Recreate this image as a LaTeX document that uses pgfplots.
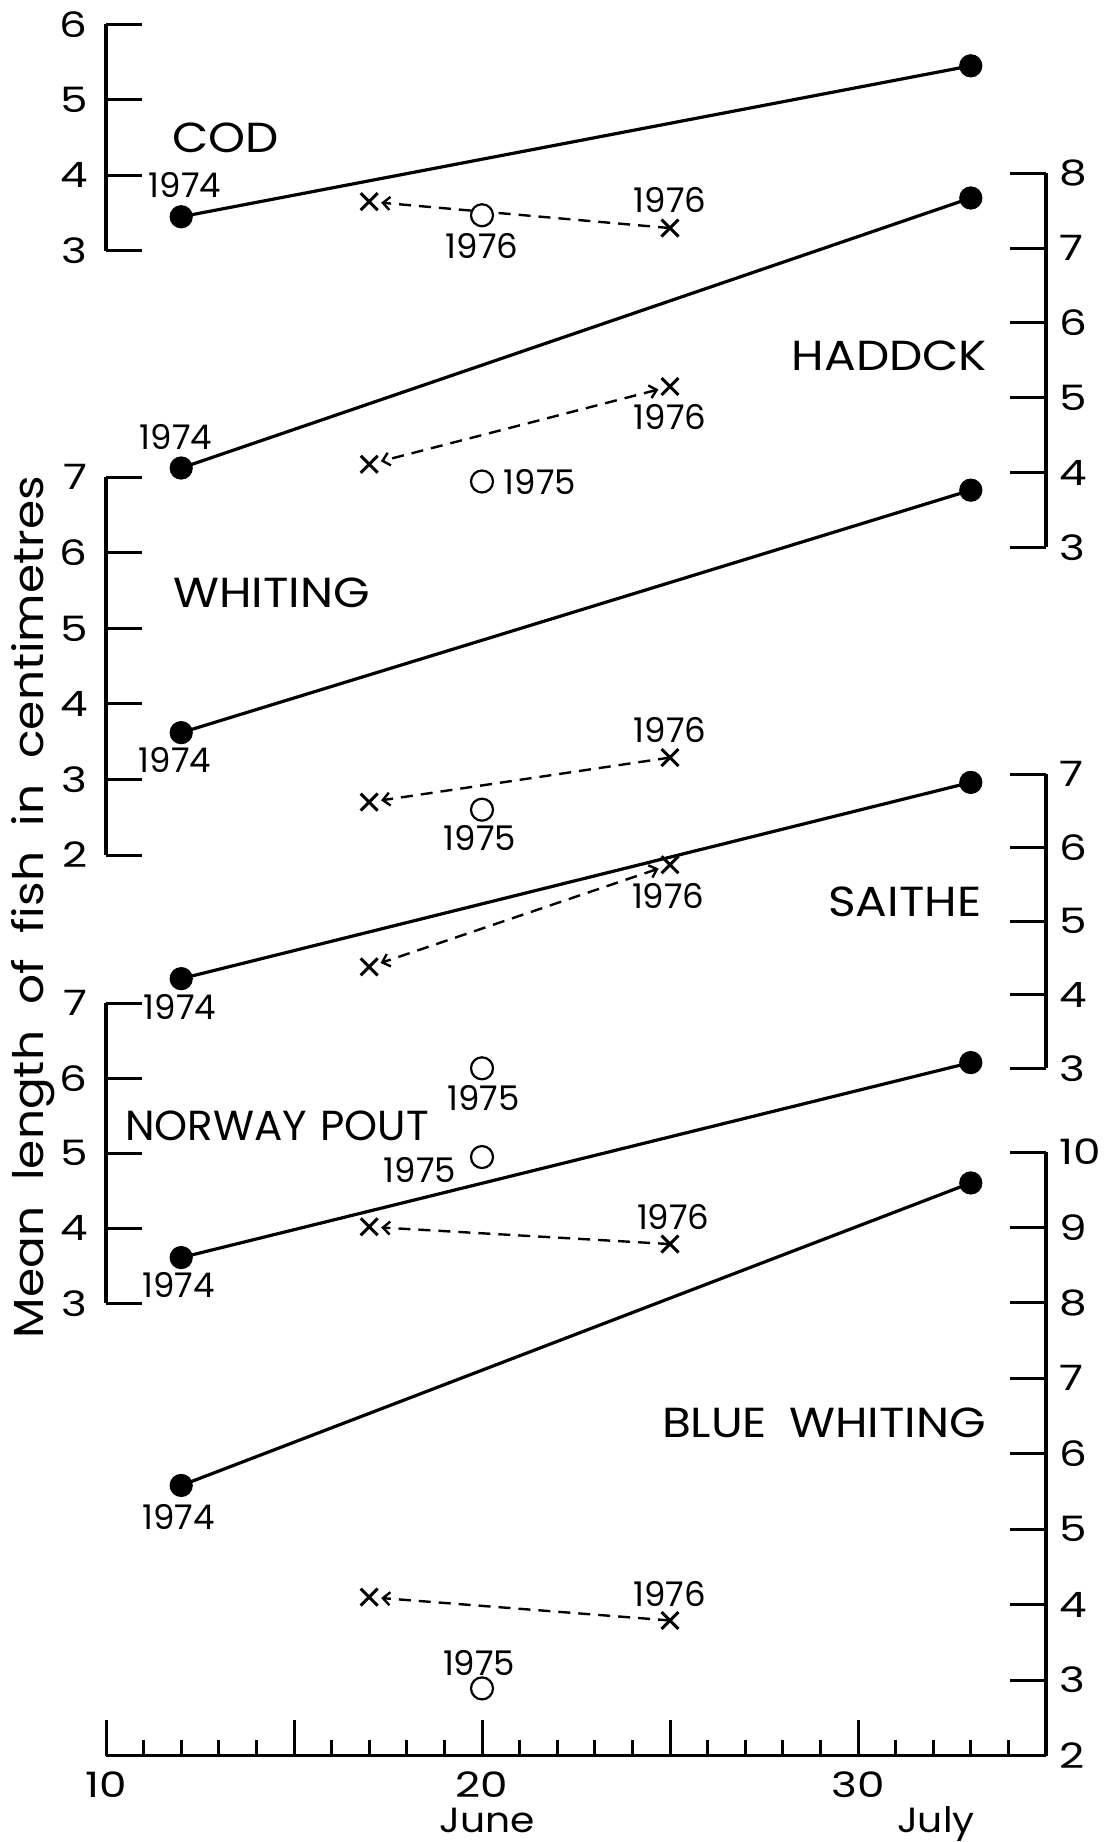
\documentclass[border=0pt]{standalone}
\usepackage{fontspec}
\setmainfont{Poppins}
\newfontfamily\tickfam{Poppins}[FakeStretch=1.25]
\newfontfamily\specfam{Poppins}[FakeStretch=1.12]
\usepackage{pgfplots}
\pgfplotsset{compat=1.18}
\usetikzlibrary{arrows.meta}

\newcommand\yearfont{\fontsize{17}{17}\selectfont}
\newcommand\specfont{\specfam\fontsize{21}{21}\selectfont}
\newcommand\ticksize{\tickfam\fontsize{17.5}{17.5}\selectfont}
\newcommand\lab[4][\yearfont]{\node[font=#1, inner sep=0pt, anchor=center] at ({#2*0.5pt},{-#3*0.5pt}) {#4};}

\pgfplotsset{
  fishcore/.style={
    scale only axis, width=470pt,
    xmin=10, xmax=35, enlargelimits=false, clip=false,
    anchor=south west,
    axis line style={line width=1.7pt, black},
    tick style={line width=1.5pt, black},
    major tick length=18pt, minor tick length=8pt,
    tick align=inside,
    ytick distance=1,
    /pgf/number format/assume math mode=true,
    tick label style={font=\ticksize},
  },
  leftax/.style={fishcore, axis x line=none, axis y line*=left,
    yticklabel style={anchor=east, inner sep=0pt, xshift=-9pt}},
  rightax/.style={fishcore, axis x line=none, axis y line*=right,
    yticklabel style={anchor=west, inner sep=0pt, xshift=6.5pt}},
  bwax/.style={fishcore, axis x line*=bottom, axis y line*=right,
    yticklabel style={anchor=west, inner sep=0pt, xshift=6.5pt}},
  solidser/.style={black, line width=1.6pt, mark=*, mark size=5pt, mark options={solid, fill=black}},
  dashser/.style={black, line width=1.2pt, dash pattern=on 6pt off 4pt, shorten >=6pt},
  dashboth/.style={dashser, shorten <=6pt},
  xser/.style={black, only marks, mark=x, mark size=6pt, mark options={solid, line width=1.5pt}},
  oser/.style={black, only marks, mark=*, mark size=5.5pt, mark options={solid, line width=1.1pt, draw=black, fill=white}},
  arr/.style={-{Straight Barb[length=3.5pt,width=6.5pt]}},
  arrboth/.style={{Straight Barb[length=3.5pt,width=6.5pt]}-{Straight Barb[length=3.5pt,width=6.5pt]}},
}

\begin{document}
\begin{tikzpicture}
\useasboundingbox (0pt,0pt) rectangle (555.5pt,-921pt);

% ---------------- COD (left, 3-6)
\begin{axis}[leftax, at={(53pt,-125.35pt)}, height=113.2pt, ymin=3, ymax=6]
\addplot[solidser] coordinates {(12,3.45) (33,5.45)};
\addplot[dashser, arr] coordinates {(25,3.30) (17,3.65)};
\addplot[oser] coordinates {(20,3.47)};
\addplot[xser] coordinates {(17,3.65) (25,3.30)};
\end{axis}

% ---------------- HADDOCK (right, 3-8)
\begin{axis}[rightax, at={(53pt,-273.65pt)}, height=187pt, ymin=3, ymax=8]
\addplot[solidser] coordinates {(12,4.06) (33,7.67)};
\addplot[dashboth, arrboth] coordinates {(25,5.15) (17,4.11)};
\addplot[oser] coordinates {(20,3.88)};
\addplot[xser] coordinates {(17,4.11) (25,5.15)};
\end{axis}

% ---------------- WHITING (left, 2-7)
\begin{axis}[leftax, at={(53pt,-427.5pt)}, height=188.85pt, ymin=2, ymax=7]
\addplot[solidser] coordinates {(12,3.62) (33,6.83)};
\addplot[dashser, arr] coordinates {(25,3.29) (17,2.70)};
\addplot[oser] coordinates {(20,2.60)};
\addplot[xser] coordinates {(17,2.70) (25,3.29)};
\end{axis}

% ---------------- SAITHE (right, 3-7)
\begin{axis}[rightax, at={(53pt,-534.15pt)}, height=147pt, ymin=3, ymax=7]
\addplot[solidser] coordinates {(12,4.22) (33,6.89)};
\addplot[dashboth, arrboth] coordinates {(25,5.77) (17,4.38)};
\addplot[oser] coordinates {(20,3.00)};
\addplot[xser] coordinates {(17,4.38) (25,5.77)};
\end{axis}

% ---------------- NORWAY POUT (left, 3-7)
\begin{axis}[leftax, at={(53pt,-651.65pt)}, height=150pt, ymin=3, ymax=7]
\addplot[solidser] coordinates {(12,3.61) (33,6.21)};
\addplot[dashser, arr] coordinates {(25,3.79) (17,4.02)};
\addplot[oser] coordinates {(20,4.95)};
\addplot[xser] coordinates {(17,4.02) (25,3.79)};
\end{axis}

% ---------------- BLUE WHITING (right, 2-10) with the date axis
\begin{axis}[bwax, at={(53pt,-877.75pt)}, height=301.75pt, ymin=2, ymax=10,
  xtick={10,15,20,25,30}, xticklabels={10,,20,,30},
  minor xtick={11,12,13,14,16,17,18,19,21,22,23,24,26,27,28,29,31,32,33,34},
  xticklabel style={anchor=north, inner sep=0pt, yshift=-8pt}]
\addplot[solidser] coordinates {(12,5.58) (33,9.59)};
\addplot[dashser, arr] coordinates {(25,3.79) (17,4.10)};
\addplot[oser] coordinates {(20,2.89)};
\addplot[xser] coordinates {(17,4.10) (25,3.79)};
\end{axis}

% ---------------- labels
\lab[\specfont]{225.5}{137.5}{COD}
\lab{185}{185}{1974}
\lab{482}{246}{1976}
\lab{670}{200}{1976}

\lab[\specfont]{889.5}{356}{HADDCK}
\lab{176}{437}{1974}
\lab{670}{416.7}{1976}
\lab{540}{481.7}{1975}

\lab[\specfont]{271.5}{592.5}{WHITING}
\lab{175}{760}{1974}
\lab{670}{730}{1976}
\lab{480}{838.3}{1975}

\lab[\specfont]{904.7}{902}{SAITHE}
\lab{180}{1006.7}{1974}
\lab{668.3}{896}{1976}
\lab{483.3}{1098.3}{1975}

\lab[\fontsize{21}{21}\selectfont]{277}{1126}{\makebox[152pt][s]{NORWAY POUT}}
\lab{178.3}{1285}{1974}
\lab{673.3}{1216.7}{1976}
\lab{420}{1170}{1975}

\lab[\specfont]{824}{1423}{\makebox[162pt][s]{BLUE WHITING}}
\lab{178.5}{1517.3}{1974}
\lab{669.4}{1593.7}{1976}
\lab{479.2}{1663}{1975}

\node[font=\specfam\fontsize{17.5}{17.5}\selectfont, inner sep=0pt, anchor=base] at (243.5pt,-916.3pt) {June};
\node[font=\specfam\fontsize{17.5}{17.5}\selectfont, inner sep=0pt, anchor=base] at (468pt,-916.3pt) {July};

\node[rotate=90, anchor=base, font=\specfont, inner sep=0pt] at (21.5pt,-453.5pt)
  {\makebox[431pt][s]{Mean length of fish in centimetres}};
\end{tikzpicture}
\end{document}
